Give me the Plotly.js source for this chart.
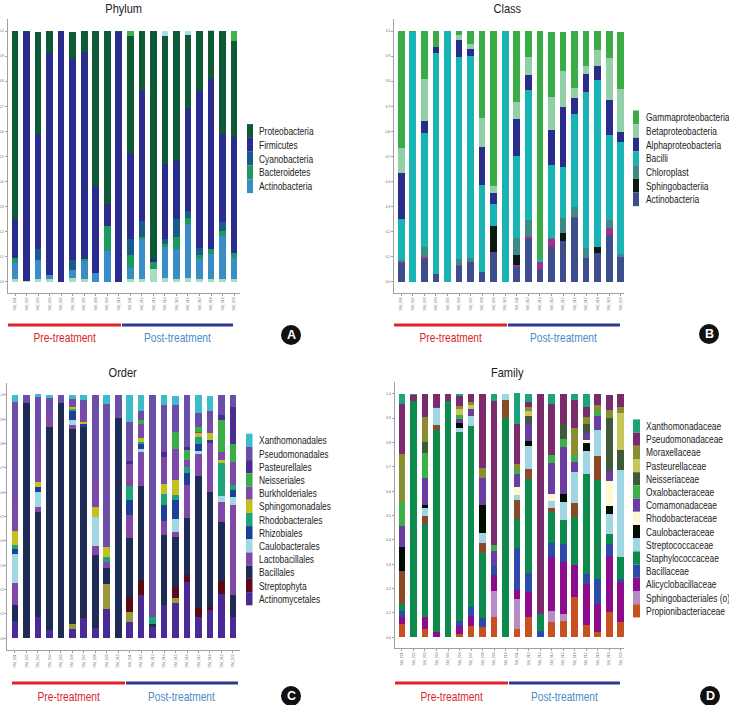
<!DOCTYPE html>
<html><head><meta charset="utf-8">
<script src="https://cdn.plot.ly/plotly-3.0.1.min.js"></script>
<style>html,body{margin:0;padding:0;background:#fff}#chart{width:729px;height:705px}</style>
</head><body><div id="chart"></div>
<script>
// ---------- categories ----------
const samples = ['SM_001','SM_002','SM_003','SM_004','SM_005','SM_006','SM_007','SM_008','SM_009','SM_010','SM_011','SM_012','SM_013','SM_014','SM_015','SM_016','SM_017','SM_018','SM_019','SM_020'];
const groupLabels = ['Pre-treatment','Post-treatment'];
const yTickLabels = ['0.0','0.1','0.2','0.3','0.4','0.5','0.6','0.7','0.8','0.9','1.0'];

// ---------- Phylum ----------
const phylumNames = ['Proteobacteria','Firmicutes','Cyanobacteria','Bacteroidetes','Actinobacteria'];
const phylumProteobacteria = [0.75,0.005,0.41,0.088,0,0.11,0.084,0.617,0.69,0.005,0.467,0.233,0.906,0.51,0.517,0.29,0.239,0.19,0.411,0.384];
const phylumFirmicutes     = [0.156,0.99,0.455,0.884,1.0,0.80,0.822,0.349,0.086,0.995,0.342,0.523,0.013,0.296,0.23,0.411,0.627,0.676,0.35,0.462];
const phylumCyanobacteria  = [0,0,0.046,0,0,0.04,0,0,0,0,0.067,0.064,0,0.02,0.073,0.03,0.027,0,0.037,0];
const phylumBacteroidetes  = [0.02,0,0,0,0,0,0.01,0,0.099,0,0.05,0.01,0.03,0.013,0.046,0.02,0.017,0.023,0.02,0.02];
const phylumActinobacteria = [0.065,0,0.077,0.017,0,0.03,0.073,0.034,0.125,0,0.046,0.16,0,0.123,0.123,0.216,0.08,0.1,0.172,0.084];
const phylumOtherLow       = [0.01,0.005,0.01,0.01,0,0.017,0.01,0,0,0,0.01,0.01,0.05,0.017,0.01,0.017,0.01,0.01,0.01,0.01];
const phylumOtherTop       = [0,0,0,0,0,0,0,0,0,0,0.017,0,0,0.02,0,0.015,0,0.005,0,0.04];

// ---------- Class ----------
const classNames = ['Gammaproteobacteria','Betaproteobacteria','Alphaproteobacteria','Bacilli','Chloroplast','Sphingobacteriia','Actinobacteria'];
const classGamma      = [0.468,0.005,0.192,0.064,0,0.015,0.05,0.345,0.618,0,0.283,0.103,0.906,0.257,0.154,0.225,0.137,0.074,0.106,0.23];
const classBeta       = [0.096,0,0.166,0,0,0.02,0.02,0.117,0.027,0,0.066,0.073,0,0.134,0.143,0.043,0.035,0.067,0.17,0.17];
const classAlpha      = [0.186,0,0.05,0.024,0,0.068,0.03,0.152,0.045,0,0.15,0.06,0,0.139,0.239,0.063,0.07,0.053,0.139,0.04];
const classBacilli    = [0.163,0.995,0.454,0.88,1.0,0.804,0.802,0.345,0.087,1.0,0.327,0.517,0.013,0.29,0.206,0.371,0.623,0.668,0.338,0.447];
const classChloroplast= [0.007,0,0.04,0,0,0.025,0.017,0,0,0,0.067,0.067,0,0.005,0.06,0.04,0.04,0,0.033,0.013];
const classSphingo    = [0,0,0,0,0,0,0,0,0.102,0,0.039,0,0,0,0.029,0,0,0.021,0,0];
const classOther      = [0.006,0,0.005,0,0,0.005,0,0,0,0,0.007,0.01,0.03,0.03,0,0.005,0,0,0.027,0];
const classActino     = [0.074,0,0.093,0.032,0,0.063,0.08,0.041,0.121,0,0.061,0.17,0.05,0.14,0.165,0.253,0.094,0.117,0.187,0.098];

// ---------- Order ----------
const orderNames = ['Xanthomonadales','Pseudomonadales','Pasteurellales','Neisseriales','Burkholderiales','Sphingomonadales','Rhodobacterales','Rhizobiales','Caulobacterales','Lactobacillales','Bacillales','Streptophyta','Actinomycetales'];
const orderXantho   = [0.027,0,0.01,0.014,0,0.018,0.02,0,0.037,0,0.11,0.064,0,0.041,0.038,0,0.073,0.061,0,0];
const orderPseudo   = [0.397,0.032,0.19,0.062,0.034,0.01,0.045,0.342,0.586,0.096,0.158,0.04,0.911,0.192,0.112,0.212,0.058,0.041,0.082,0.048];
const orderPasteur  = [0,0,0,0,0,0,0,0,0,0,0.014,0,0,0.02,0,0.014,0,0,0.02,0.151];
const orderNeisser  = [0,0,0,0,0,0,0,0,0,0,0,0.014,0,0,0.068,0.04,0.02,0,0.13,0.075];
const orderBurk     = [0.135,0,0.158,0.055,0,0.02,0.048,0.12,0,0,0.089,0.06,0,0.109,0.13,0.027,0.007,0.048,0.034,0.096];
const orderSphingo  = [0.055,0,0.021,0,0,0.01,0.005,0.041,0.041,0,0,0.014,0,0.041,0.062,0,0.014,0.028,0.014,0];
const orderRhodo    = [0.016,0,0,0,0,0.007,0,0,0.023,0,0.058,0.01,0.03,0.047,0.02,0.027,0.03,0,0.135,0.02];
const orderRhizo    = [0.022,0,0.02,0,0,0.04,0.015,0,0,0,0.062,0.02,0,0.068,0.075,0.048,0.028,0.014,0,0.027];
const orderCaulo    = [0.119,0,0.062,0,0,0.02,0,0.118,0,0,0,0.014,0,0,0.055,0,0.014,0,0.025,0.034];
const orderLacto    = [0.092,0,0.02,0,0,0.014,0,0.037,0.025,0,0.096,0.137,0,0.055,0.02,0.137,0.089,0.199,0.082,0.37];
const orderBacillales=[0.062,0.968,0.432,0.836,0.966,0.801,0.778,0.301,0.065,0.904,0.24,0.387,0.011,0.288,0.205,0.233,0.543,0.473,0.24,0.089];
const orderStrepto  = [0,0,0,0,0,0,0.007,0,0,0,0.062,0.062,0,0,0.048,0.027,0.035,0.014,0.055,0];
const orderOther    = [0,0,0,0,0,0.02,0,0,0.104,0,0.041,0,0,0,0.02,0,0,0,0,0];
const orderActino   = [0.073,0,0.089,0.034,0,0.04,0.082,0.041,0.119,0,0.068,0.178,0.048,0.137,0.144,0.233,0.089,0.116,0.182,0.089];

// ---------- Family ----------
const familyNames = ['Xanthomonadaceae','Pseudomonadaceae','Moraxellaceae','Pasteurellaceae','Neisseriaceae','Oxalobacteraceae','Comamonadaceae','Rhodobacteraceae','Caulobacteraceae','Streptococcaceae','Staphylococcaceae','Bacillaceae','Alicyclobacillaceae','Sphingobacteriales (o)','Propionibacteriaceae'];
const famXantho  = [0.041,0.005,0,0,0,0.01,0,0,0.031,0,0.127,0.031,0,0.041,0,0.025,0.052,0,0,0];
const famPseudo  = [0.206,0.025,0.093,0.052,0.031,0.04,0.031,0.305,0.589,0,0.164,0.02,0.901,0.208,0.121,0.116,0.041,0.045,0.059,0.052];
const famMorax   = [0.198,0,0.103,0,0,0.01,0.014,0.041,0,0,0.02,0.02,0,0,0,0.11,0.027,0.027,0.034,0.027];
const famPasteur = [0,0,0,0,0,0.026,0.016,0,0,0,0,0.02,0,0,0,0,0,0,0,0.151];
const famNeisser = [0,0,0.048,0,0,0,0,0,0,0,0,0.027,0,0,0.062,0,0.04,0,0.216,0.082];
const famOxalo   = [0.096,0,0.103,0,0,0.015,0,0,0.027,0,0.02,0,0,0.034,0.034,0.027,0,0.02,0,0];
const famComam   = [0.089,0,0.109,0.007,0,0.02,0.027,0.11,0.062,0,0.055,0.075,0,0.13,0.192,0.041,0.027,0.055,0.041,0];
const famRhodo   = [0,0,0,0,0,0,0,0,0,0,0.034,0,0,0.027,0,0,0.014,0,0.103,0];
const famCaulo   = [0.096,0,0.014,0,0,0.02,0,0.117,0,0,0,0.02,0,0,0.034,0,0.03,0,0.034,0];
const famStrepto = [0,0,0.03,0.07,0,0.015,0.04,0.041,0,0.025,0.02,0.096,0,0.027,0.075,0.13,0.096,0.11,0.082,0.356];
const famOther   = [0.137,0,0.034,0.02,0,0,0,0.041,0,0.075,0.075,0.041,0,0.02,0,0.055,0,0.096,0,0];
const famStaph   = [0.027,0.97,0.384,0.831,0.969,0.776,0.747,0.267,0,0.9,0.123,0.386,0.07,0.126,0.096,0.199,0.41,0.407,0.041,0.091];
const famBacill  = [0.027,0,0,0,0,0.02,0.034,0.037,0.037,0,0.171,0.075,0.027,0.058,0.075,0,0.041,0.104,0.048,0.014];
const famAlicyc  = [0.027,0,0.048,0.02,0,0.034,0.041,0,0.062,0,0.037,0.106,0,0.219,0.214,0.132,0.17,0.116,0.233,0.164];
const famSphingob= [0,0,0,0,0,0,0,0,0.11,0,0.123,0,0,0.048,0.027,0,0,0,0,0];
const famPropion = [0.055,0,0.034,0,0,0.014,0.048,0.041,0.082,0,0.034,0.082,0,0.062,0.068,0.164,0.05,0.02,0.103,0.062];

// ---------- styles ----------
const phylumColors = ['#0e5a36','#2b2d8e','#1a5a8c','#1b9a5e','#3a8cc6'];
const classColors  = ['#3aac45','#92cfa6','#2a2c8c','#1ab3b3','#3e8a86','#0a1a12','#3d4d8e'];
const orderColors  = ['#3cbdcc','#6a4ea8','#4a2c92','#3aad48','#7c4aa6','#c6c01e','#1ea37a','#1d3f9c','#a0d8e2','#8148a8','#1e2c55','#5c0a16','#4a2b96'];
const familyColors = ['#1ba37c','#7b2a6c','#8a8c30','#c6c65a','#3f5a3a','#3bb049','#6b3ca2','#fbf8cf','#000c00','#a0d6e4','#0e8a4c','#2c4aa8','#8c0c8c','#b68cc8','#c9501f'];
const phylumTopColors = samples.map((s,i)=> [10,19].includes(i) ? '#3cb44a' : '#a8dde8');

const FONT = '"Liberation Sans",Arial,Helvetica,sans-serif';
const W = 729, H = 705;
const px = v => v / W, py = v => 1 - v / H;

const data = [];
function addStack(sfx, stack) {
  stack.forEach(s => data.push({
    type: 'bar', x: samples, y: s.v, name: s.n, width: 0.58,
    marker: {color: s.c, line: {width: 0}},
    xaxis: 'x' + sfx, yaxis: 'y' + sfx, showlegend: false,
    hovertemplate: s.n + ': %{y}<extra></extra>'
  }));
}
// stacks listed bottom -> top
addStack('', [
  {n:'Other', v:phylumOtherLow, c:'#a6dcc0'},
  {n:phylumNames[4], v:phylumActinobacteria, c:phylumColors[4]},
  {n:phylumNames[3], v:phylumBacteroidetes, c:phylumColors[3]},
  {n:phylumNames[2], v:phylumCyanobacteria, c:phylumColors[2]},
  {n:phylumNames[1], v:phylumFirmicutes, c:phylumColors[1]},
  {n:phylumNames[0], v:phylumProteobacteria, c:phylumColors[0]},
  {n:'Other', v:phylumOtherTop, c:phylumTopColors}
]);
addStack('2', [
  {n:classNames[6], v:classActino, c:classColors[6]},
  {n:'Other', v:classOther, c:'#a0308f'},
  {n:classNames[5], v:classSphingo, c:classColors[5]},
  {n:classNames[4], v:classChloroplast, c:classColors[4]},
  {n:classNames[3], v:classBacilli, c:classColors[3]},
  {n:classNames[2], v:classAlpha, c:classColors[2]},
  {n:classNames[1], v:classBeta, c:classColors[1]},
  {n:classNames[0], v:classGamma, c:classColors[0]}
]);
const orderSeries = [orderXantho,orderPseudo,orderPasteur,orderNeisser,orderBurk,orderSphingo,orderRhodo,orderRhizo,orderCaulo,orderLacto,orderBacillales,orderStrepto,orderActino];
const orderStack = [];
for (let i = orderSeries.length - 1; i >= 0; i--) {
  orderStack.push({n:orderNames[i], v:orderSeries[i], c:orderColors[i]});
  if (i === 12) orderStack.push({n:'Other', v:orderOther, c:'#9a9a3c'});
}
addStack('3', orderStack);
const famSeries = [famXantho,famPseudo,famMorax,famPasteur,famNeisser,famOxalo,famComam,famRhodo,famCaulo,famStrepto,famStaph,famBacill,famAlicyc,famSphingob,famPropion];
const famStack = [];
for (let i = famSeries.length - 1; i >= 0; i--) {
  famStack.push({n:familyNames[i], v:famSeries[i], c:familyColors[i]});
  if (i === 10) famStack.push({n:'Other', v:famOther, c:'#8a4a28'});
}
addStack('4', famStack);

// ---------- axes ----------
function xa(x0, x1, range, anchor) {
  return {domain:[px(x0), px(x1)], range, type:'category', anchor,
    showline:true, linecolor:'#a0a0a0', linewidth:1, ticks:'outside', ticklen:2, tickcolor:'#a0a0a0',
    tickangle:-90, tickfont:{size:3.5, color:'#777', family:FONT}, showgrid:false, zeroline:false, fixedrange:true};
}
function ya(top, bottom, range, anchor) {
  return {domain:[py(bottom), py(top)], range, anchor,
    showline:true, linecolor:'#a0a0a0', linewidth:1, ticks:'outside', ticklen:2, tickcolor:'#a0a0a0',
    tickmode:'array', tickvals:yTickLabels.map(Number), ticktext:yTickLabels,
    tickfont:{size:3.5, color:'#666', family:FONT}, showgrid:false, zeroline:false, fixedrange:true};
}

const shapes = [], annotations = [], annSquash = [];
function addText(t, x, y, anchor, size, color, squash) {
  annotations.push({xref:'paper', yref:'paper', x:px(x), y:py(y), xanchor:anchor, yanchor:'middle', showarrow:false,
    text:t, font:{size, color, family:FONT}});
  annSquash.push({k: squash, anchor});
}
function legend(names, colors, sx0, sx1, tx, y0, step) {
  names.forEach((n, i) => {
    const cy = y0 + i * step;
    shapes.push({type:'rect', xref:'paper', yref:'paper', x0:px(sx0), x1:px(sx1), y0:py(cy + step/2), y1:py(cy - step/2),
      fillcolor:colors[i], line:{width:0}});
    addText(n, tx, cy, 'left', 10.5, '#222', 0.8);
  });
}
function title(t, cx, cy) { addText(t, cx, cy, 'center', 13, '#222', 0.85); }
function groups(xa0, xmid, xb1, ly, ty) {
  shapes.push({type:'line', xref:'paper', yref:'paper', x0:px(xa0), x1:px(xmid), y0:py(ly), y1:py(ly), line:{color:'#e2212b', width:3}});
  shapes.push({type:'line', xref:'paper', yref:'paper', x0:px(xmid+1), x1:px(xb1), y0:py(ly), y1:py(ly), line:{color:'#2b3990', width:3}});
  addText(groupLabels[0], (xa0+xmid)/2, ty, 'center', 12, '#d9262e', 0.85);
  addText(groupLabels[1], (xmid+xb1)/2, ty, 'center', 12, '#4a8cc8', 0.85);
}
function badge(letter, cx, cy) {
  shapes.push({type:'circle', xref:'paper', yref:'paper', x0:px(cx-10), x1:px(cx+10), y0:py(cy+10), y1:py(cy-10),
    fillcolor:'#111', line:{width:0}});
  addText('<b>'+letter+'</b>', cx, cy, 'center', 12.5, '#fff', 1);
}

title('Phylum', 123, 8); title('Class', 507, 8); title('Order', 123, 372); title('Family', 507, 372);
legend(phylumNames, phylumColors, 247, 253, 257, 131, 13.8);
legend(classNames, classColors, 633, 639, 644, 117.3, 13.67);
legend(orderNames, orderColors, 246, 252.5, 256.5, 440.3, 13.2);
legend(familyNames, familyColors, 633, 640, 644, 426, 13.2);
groups(8, 121, 233, 325, 338);
groups(394, 507, 620, 325, 338);
groups(12, 125, 238, 683, 697);
groups(395, 508, 620, 683, 697);
badge('A', 291, 335); badge('B', 709, 334); badge('C', 291, 696); badge('D', 710, 696);

const layout = {
  width: W, height: H, margin:{l:0, r:0, t:0, b:0}, paper_bgcolor:'#fff', plot_bgcolor:'#fff',
  barmode:'stack', showlegend:false, font:{family:FONT},
  xaxis:  xa(7.5, 240, [-0.65, 19.51], 'y'),
  yaxis:  ya(19, 293, [-0.044, 1.048], 'x'),
  xaxis2: xa(394, 624, [-0.63, 19.28], 'y2'),
  yaxis2: ya(19, 293, [-0.044, 1.048], 'x2'),
  xaxis3: xa(7.3, 240, [-0.67, 19.62], 'y3'),
  yaxis3: ya(383, 650, [-0.048, 1.049], 'x3'),
  xaxis4: xa(394.7, 624, [-0.63, 19.28], 'y4'),
  yaxis4: ya(382, 648, [-0.044, 1.049], 'x4'),
  shapes, annotations
};
Plotly.newPlot('chart', data, layout, {staticPlot:true, displayModeBar:false}).then(gd => {
  // condensed look: squeeze annotation text horizontally around its anchor
  gd.querySelectorAll('g.annotation').forEach(g => {
    const i = +g.getAttribute('data-index');
    const s = annSquash[i];
    if (!s || s.k === 1) return;
    const t = g.querySelector('text.annotation-text');
    if (!t) return;
    const b = t.getBBox();
    const ax = s.anchor === 'left' ? b.x : b.x + b.width / 2;
    const prev = t.getAttribute('transform') || '';
    t.setAttribute('transform', (prev + ' matrix(' + s.k + ',0,0,1,' + (ax * (1 - s.k)) + ',0)').trim());
  });
});
</script>
</body></html>
